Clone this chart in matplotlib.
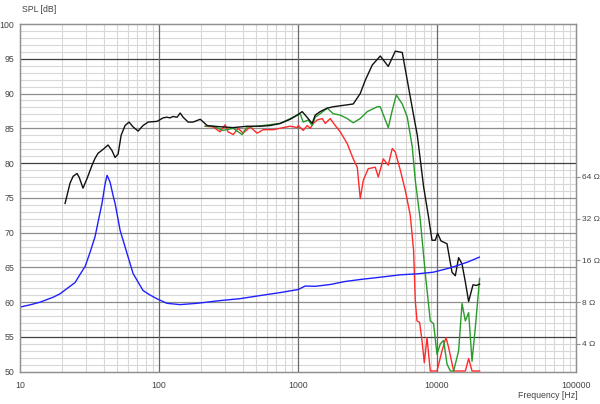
import matplotlib
matplotlib.use('Agg')
import matplotlib.pyplot as plt
from matplotlib.ticker import FixedLocator, NullLocator, FixedFormatter

# ---- data ----
black_f = [21.1, 22.9, 24.1, 25.7, 26.6, 28.4, 30.4, 33.0, 34.7, 36.4, 40.3, 43.0, 45.9, 48.3,
           50.8, 53.4, 57.0, 60.9, 65.1, 70.7, 76.8, 83.5, 96.9, 107, 114, 120, 126, 135, 142,
           149, 162, 176, 198, 222, 245, 289, 342, 431, 535, 631, 745, 879, 987, 1072, 1127,
           1184, 1265, 1330, 1444, 1623, 1792, 2116, 2497, 2804, 3046, 3422, 3907, 4460, 5010,
           5626, 6112, 6641, 7215, 8010, 8700, 9204, 9722, 10100, 10686, 11803, 12823, 13547,
           14305, 15136, 15990, 16889, 18164, 19187, 20262]
black_db = [74.2, 77.1, 78.1, 78.5, 78.0, 76.4, 77.8, 79.7, 80.7, 81.4, 82.1, 82.6, 81.8, 80.8,
            81.3, 84.0, 85.4, 85.9, 85.2, 84.6, 85.4, 85.9, 86.0, 86.5, 86.6, 86.5, 86.7, 86.6,
            87.2, 86.6, 85.9, 85.9, 86.3, 85.4, 85.3, 85.2, 85.1, 85.3, 85.3, 85.4, 85.7, 86.3,
            86.9, 87.4, 86.9, 86.4, 85.7, 86.9, 87.4, 87.9, 88.1, 88.3, 88.5, 90.0, 91.9, 94.1,
            95.4, 93.9, 96.1, 95.9, 91.9, 87.9, 84.0, 76.6, 72.2, 68.9, 68.9, 69.9, 68.8, 68.4,
            64.3, 63.8, 66.4, 65.5, 62.9, 60.1, 62.5, 62.4, 62.6]

green_f = [215, 245, 289, 342, 396, 431, 508, 745, 923, 1037, 1090, 1184, 1265, 1330, 1444,
           1623, 1792, 2012, 2261, 2497, 2804, 3149, 3717, 3907, 4460, 4767, 5093, 5626, 6112,
           6641, 6980, 7583, 8236, 8950, 9452, 10000, 10564, 11156, 11803, 12468, 13170, 14305,
           15136, 15990, 16889, 17865, 18873, 20262]
green_db = [85.3, 85.3, 84.7, 85.0, 84.1, 85.2, 85.3, 85.7, 86.6, 87.1, 85.9, 86.2, 85.4, 86.6,
            87.1, 87.9, 87.1, 86.9, 86.4, 85.8, 86.4, 87.4, 88.1, 88.1, 85.1, 87.6, 89.8, 88.5,
            86.6, 82.3, 77.5, 71.8, 64.1, 57.3, 56.9, 52.5, 54.0, 54.5, 51.1, 50.1, 50.1, 53.0,
            59.8, 57.3, 58.5, 51.5, 56.4, 63.4]

red_f = [215, 245, 275, 299, 314, 342, 371, 403, 453, 508, 562, 663, 783, 879, 987, 1003, 1090,
         1165, 1224, 1287, 1375, 1494, 1570, 1706, 1852, 2012, 2261, 2497, 2669, 2804, 2947,
         3202, 3596, 3780, 4106, 4460, 4767, 5010, 5442, 5911, 6423, 6788, 6980, 7178, 7494,
         7798, 8102, 8473, 8950, 10000, 10864, 11607, 12119, 13170, 15990, 16889, 17865, 20262]
red_db = [85.3, 85.2, 84.5, 85.5, 84.5, 84.1, 85.0, 84.3, 85.2, 84.3, 84.8, 84.8, 85.1, 85.3,
          85.1, 85.4, 84.7, 85.4, 85.0, 85.7, 86.2, 86.4, 85.7, 86.4, 85.4, 84.5, 82.8, 80.6,
          79.4, 74.9, 77.5, 79.2, 79.4, 78.0, 80.6, 79.7, 82.1, 81.6, 79.0, 76.1, 72.5, 67.4,
          60.2, 57.3, 57.1, 54.5, 51.3, 54.9, 50.1, 50.1, 53.0, 54.9, 53.5, 50.1, 50.1, 51.9,
          50.1, 50.1]

imp_f = [10, 11.8, 13.9, 17.3, 19.4, 21.8, 24.9, 27.0, 29.4, 31.9, 34.7, 36.4, 38.9, 40.9, 42.3,
         44.5, 46.7, 48.3, 52.5, 58.9, 65.1, 76.8, 86.3, 96.9, 114, 142, 188, 275, 384, 535,
         745, 1003, 1127, 1330, 1706, 2187, 2804, 3596, 4610, 5442, 7215, 9406, 12468, 16530,
         20160]
imp_ohm = [7.37, 7.65, 7.99, 8.68, 9.19, 10.03, 11.08, 12.66, 14.47, 18.27, 23.84, 30.1, 41.3,
           56.7, 65.8, 58.6, 47.2, 41.3, 26.4, 17.96, 12.87, 9.70, 9.0, 8.45, 7.85, 7.68, 7.85,
           8.21, 8.48, 8.93, 9.38, 9.87, 10.46, 10.41, 10.73, 11.28, 11.66, 11.99, 12.35, 12.60,
           12.81, 13.16, 14.15, 15.54, 16.89]

x_ticks = [10, 100, 1000, 10000, 100000]
x_ticklabels = ['10', '100', '1000', '10000', '100000']
y_ticks = [50, 55, 60, 65, 70, 75, 80, 85, 90, 95, 100]
z_ticks = [4, 8, 16, 32, 64]
z_ticklabels = ['4 Ω', '8 Ω', '16 Ω', '32 Ω', '64 Ω']

plt.rcParams['font.family'] = ['Liberation Sans', 'DejaVu Sans']

W, H = 600, 404
fig = plt.figure(figsize=(W / 100, H / 100), dpi=100)
ax = fig.add_axes([20 / W, 1 - 371.7 / H, 556 / W, (371.7 - 24) / H])

ax.set_xscale('log')
ax.set_xlim(10, 100000)
ax.set_ylim(50, 100)

# grid
minor_x = [m * d for d in [10, 100, 1000, 10000] for m in range(2, 10)]
ax.xaxis.set_major_locator(FixedLocator(x_ticks))
ax.xaxis.set_minor_locator(FixedLocator(minor_x))
ax.xaxis.set_major_formatter(FixedFormatter(x_ticklabels))
ax.xaxis.set_minor_formatter(FixedFormatter([]))
ax.yaxis.set_major_locator(FixedLocator(y_ticks))
ax.yaxis.set_minor_locator(FixedLocator([v for v in range(50, 101) if v % 5]))

ax.set_axisbelow(True)
ax.grid(which='minor', axis='both', color='#d8d8d8', lw=0.8)
for v in y_ticks[1:-1]:
    ax.axhline(v, color='#404040' if v in (55, 80, 95) else '#8c8c8c', lw=0.9, zorder=1)
for v in x_ticks[1:-1]:
    ax.axvline(v, color='#6a6a6a', lw=0.9, zorder=1.1)

ax.tick_params(axis='both', which='both', length=0, labelsize=6.3, labelcolor='#444444')
ax.tick_params(axis='x', pad=7)
ax.tick_params(axis='y', pad=4)
for s in ax.spines.values():
    s.set_color('#909090')
    s.set_linewidth(0.9)

ax.plot(red_f, red_db, color='#ff2a2a', lw=1.0, zorder=3)
ax.plot(green_f, green_db, color='#2a9a2a', lw=1.0, zorder=4)
ax.plot(black_f, black_db, color='#111111', lw=1.0, zorder=5)

# impedance axis
ax2 = ax.twinx()
ax2.set_yscale('log', base=2)
ax2.set_ylim(4 * 2 ** (-4 / 6), 4 * 2 ** (46 / 6))
ax2.yaxis.set_major_locator(FixedLocator(z_ticks))
ax2.yaxis.set_major_formatter(FixedFormatter(z_ticklabels))
ax2.yaxis.set_minor_locator(NullLocator())
ax2.tick_params(axis='y', length=3, color='#909090', labelsize=6, labelcolor='#444444', pad=1.5)
for s in ax2.spines.values():
    s.set_color('#909090')
    s.set_linewidth(0.9)
ax2.plot(imp_f, imp_ohm, color='#2020ff', lw=1.0, zorder=2)

fig.text(22 / W, 1 - 10 / H, 'SPL [dB]', fontsize=6.3, color='#444444', ha='left', va='center')
fig.text(578 / W, 1 - 395 / H, 'Frequency [Hz]', fontsize=6.3, color='#444444', ha='right', va='center')

fig.savefig('out.png', dpi=100)
